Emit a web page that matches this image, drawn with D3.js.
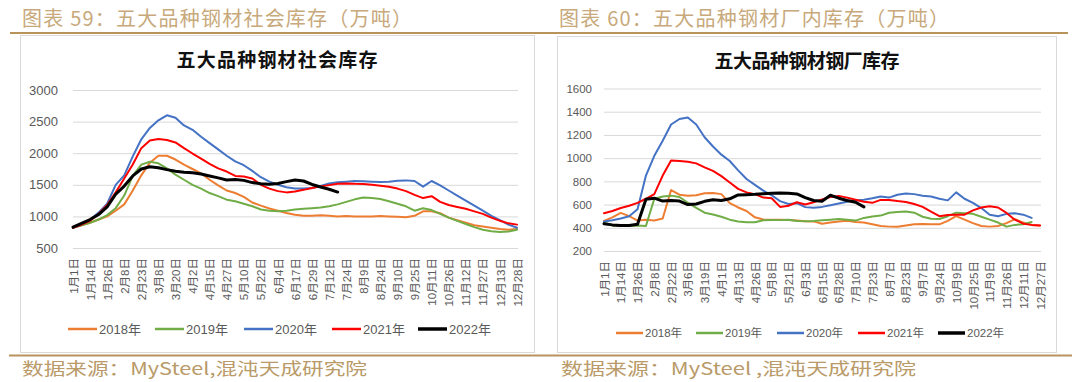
<!DOCTYPE html>
<meta charset="utf-8">
<head>
<style>
body { margin: 0; background: #fff; }
.grid line { stroke: #d9d9d9; stroke-width: 1px; }
.grid path, .yaxis path, .xaxis path { display: none; }
.yaxis text, .xaxis text, .legend text {
  fill: #595959;
  font-family: "Liberation Sans", "Noto Sans CJK SC", sans-serif;
}
.series { fill: none; stroke-linejoin: round; stroke-linecap: round; }
.head { fill: #c8a97b; font-family: "Noto Sans CJK SC", sans-serif; font-size: 20px; }
.src { fill: #b99a68; font-family: "Noto Sans CJK SC", sans-serif; font-size: 17px; }
.ctitle { fill: #111; font-family: "Noto Sans CJK SC", sans-serif; font-size: 19px; font-weight: bold; }
</style>
</head>
<body>
<script src="https://d3js.org/d3.v7.min.js"></script>
<script>

// ---- data ----
var years  = ["2018年", "2019年", "2020年", "2021年", "2022年"];
var colors = ["#ED7D31", "#70AD47", "#4472C4", "#FF0000", "#000000"];

// tick labels (every other week is labelled)
var socLabels = ["1月1日","1月14日","1月26日","2月8日","2月23日","3月8日","3月20日","4月2日","4月15日",
  "4月27日","5月10日","5月22日","6月4日","6月17日","6月29日","7月12日","7月24日","8月9日","8月24日",
  "9月10日","9月25日","10月11日","10月26日","11月12日","11月27日","12月13日","12月28日"];
var millLabels = ["1月1日","1月14日","1月26日","2月8日","2月22日","3月6日","3月19日","4月1日","4月13日",
  "4月26日","5月8日","5月21日","6月3日","6月15日","6月28日","7月10日","7月23日","8月7日","8月23日",
  "9月7日","9月24日","10月9日","10月25日","11月9日","11月26日","12月11日","12月27日"];

// 五大品种钢材社会库存 (万吨), weekly
var soc2018 = [820,860,900,950,1000,1090,1190,1410,1650,1850,1960,1960,1900,1820,1750,1680,1580,1490,1410,1370,
  1310,1220,1170,1125,1090,1055,1025,1010,1010,1020,1010,1000,1005,1000,1000,1000,1005,1000,995,985,
  1010,1080,1080,1050,980,940,900,860,840,820,800,790,800];
var soc2019 = [820,860,900,950,1020,1130,1330,1640,1820,1865,1840,1760,1660,1580,1500,1440,1370,1320,1265,1240,
  1200,1160,1110,1090,1080,1090,1110,1120,1130,1140,1160,1190,1230,1270,1300,1290,1275,1240,1200,1160,
  1090,1130,1100,1040,980,930,880,830,790,765,755,760,790];
var soc2020 = [820,870,950,1060,1200,1500,1650,1950,2220,2400,2520,2600,2560,2440,2370,2260,2160,2060,1960,1870,
  1810,1720,1620,1550,1500,1460,1440,1440,1450,1480,1520,1540,1550,1560,1555,1550,1545,1550,1565,1570,
  1560,1470,1560,1490,1410,1330,1250,1170,1090,1010,940,870,820];
var soc2021 = [820,870,930,1040,1180,1380,1600,1820,2080,2200,2225,2210,2170,2080,1995,1915,1830,1760,1710,1640,
  1630,1600,1500,1440,1400,1380,1395,1420,1450,1475,1495,1518,1522,1515,1512,1500,1485,1470,1440,1400,
  1340,1290,1320,1230,1180,1150,1120,1080,1040,980,930,890,870];
var soc2022 = [830,890,950,1030,1150,1350,1480,1640,1750,1785,1770,1740,1715,1700,1690,1670,1640,1610,1575,1585,
  1570,1535,1515,1510,1520,1550,1575,1560,1505,1465,1430,1385];

// 五大品种钢材钢厂库存 (万吨), weekly
var mill2018 = [460,490,528,500,462,470,462,480,725,685,676,680,698,700,690,613,575,545,490,472,
  470,470,468,463,456,455,435,445,455,460,450,445,430,415,410,408,420,430,432,430,
  430,460,500,470,440,415,410,415,440,475,445,425,420];
var mill2019 = [445,420,415,415,420,415,650,670,677,665,616,572,530,515,495,470,455,447,447,465,
  468,466,470,458,456,458,465,470,476,470,462,485,498,505,530,535,540,530,495,478,
  476,500,530,525,520,495,470,445,410,425,430,450];
var mill2020 = [455,465,480,500,560,850,1020,1150,1290,1337,1350,1290,1180,1100,1030,975,895,820,770,720,
  680,630,605,612,578,573,580,595,610,625,635,642,655,670,660,685,695,690,676,670,
  650,636,705,650,615,570,513,500,520,525,513,485];
var mill2021 = [525,545,570,590,615,650,690,850,980,975,968,955,920,890,845,790,735,705,690,660,
  655,580,590,620,600,620,645,665,675,660,642,625,615,640,640,630,622,605,580,540,
  500,510,513,513,550,575,585,575,528,470,435,425,420];
var mill2022 = [435,425,420,420,430,645,655,630,636,630,600,605,628,642,635,650,683,685,688,693,
  698,700,698,692,660,635,628,680,655,635,620,580];

var svg = d3.select("body").append("svg")
    .attr("width", 1080)
    .attr("height", 382);

// ---- page frame: headings, gold rules, source notes ----
svg.append("text").attr("class", "head")
    .attr("x", 22).attr("y", 26)
    .attr("textLength", 390).attr("lengthAdjust", "spacing")
    .text("图表 59：五大品种钢材社会库存（万吨）");
svg.append("text").attr("class", "head")
    .attr("x", 559).attr("y", 26)
    .attr("textLength", 390).attr("lengthAdjust", "spacing")
    .text("图表 60：五大品种钢材厂内库存（万吨）");

svg.append("line")
    .attr("x1", 10).attr("x2", 1068).attr("y1", 33).attr("y2", 33)
    .attr("stroke", "#b8945c").attr("stroke-width", 2);

svg.append("rect")
    .attr("x", 20.5).attr("y", 35.5).attr("width", 514).attr("height", 317)
    .attr("fill", "none").attr("stroke", "#d9d9d9");
svg.append("rect")
    .attr("x", 557.5).attr("y", 36.5).attr("width", 499).attr("height", 316)
    .attr("fill", "none").attr("stroke", "#d9d9d9");

svg.append("line")
    .attr("x1", 9).attr("x2", 1072).attr("y1", 355.5).attr("y2", 355.5)
    .attr("stroke", "#b8945c").attr("stroke-width", 2);

svg.append("text").attr("class", "src")
    .attr("x", 22).attr("y", 375)
    .attr("textLength", 345).attr("lengthAdjust", "spacingAndGlyphs")
    .text("数据来源：MySteel,混沌天成研究院");
svg.append("text").attr("class", "src")
    .attr("x", 561).attr("y", 375)
    .attr("textLength", 355).attr("lengthAdjust", "spacingAndGlyphs")
    .text("数据来源：MySteel ,混沌天成研究院");

// ---- one line chart ----
function drawChart(c) {
  var x = d3.scaleLinear().domain([0, 52]).range([c.x0, c.x1]);
  var y = d3.scaleLinear().domain(c.domain).range([c.yBot, c.yTop]);
  var yTicks = d3.range(c.domain[0], c.domain[1] + 1, c.step);

  // gridlines
  svg.append("g")
      .attr("class", "grid")
      .attr("transform", "translate(" + c.x0 + ",0)")
      .call(d3.axisLeft(y)
          .tickValues(yTicks)
          .tickSize(-(c.x1 - c.x0 + 1))
          .tickFormat(""));

  // y axis labels
  svg.append("g")
      .attr("class", "yaxis")
      .attr("transform", "translate(" + c.x0 + ",0)")
      .call(d3.axisLeft(y)
          .tickValues(yTicks)
          .tickSize(0)
          .tickPadding(c.yPad)
          .tickFormat(d3.format("d")))
    .selectAll("text")
      .attr("font-size", c.yfs);

  // x axis labels, rotated
  var xTicks = d3.range(0, 53, 2);
  svg.append("g")
      .attr("class", "xaxis")
      .attr("transform", "translate(0," + c.xlabTop + ")")
      .call(d3.axisBottom(x)
          .tickValues(xTicks)
          .tickSize(0)
          .tickFormat(function(d) { return c.labels[d / 2]; }))
    .selectAll("text")
      .attr("font-size", c.xfs)
      .attr("x", 0).attr("y", 0)
      .attr("dy", "0.36em")
      .attr("transform", "rotate(-90)")
      .style("text-anchor", "end");
  svg.selectAll(".xaxis .tick line").remove();

  // title
  svg.append("text")
      .attr("class", "ctitle")
      .attr("x", c.titleX).attr("y", c.titleY)
      .attr("text-anchor", "middle")
      .attr("textLength", c.titleLen).attr("lengthAdjust", "spacing")
      .text(c.title);

  // series
  var line = d3.line()
      .x(function(d, i) { return x(i); })
      .y(function(d) { return y(d); });

  c.series.forEach(function(s, k) {
    svg.append("path")
        .datum(s)
        .attr("class", "series")
        .attr("stroke", colors[k])
        .attr("stroke-width", k == 4 ? 3 : 2)
        .attr("d", line);
  });

  // legend
  var lg = svg.append("g").attr("class", "legend");
  years.forEach(function(yr, k) {
    var lx = c.legendXs[k];
    lg.append("line")
        .attr("x1", lx).attr("x2", lx + c.legendLen)
        .attr("y1", c.legendY).attr("y2", c.legendY)
        .attr("stroke", colors[k])
        .attr("stroke-width", k == 4 ? 3.5 : 2.5);
    lg.append("text")
        .attr("x", lx + c.legendLen + 2)
        .attr("y", c.legendY)
        .attr("dy", "0.36em")
        .attr("font-size", c.lfs)
        .text(yr);
  });
}

drawChart({
  x0: 73, x1: 517, yTop: 90, yBot: 248, domain: [500, 3000], step: 500,
  labels: socLabels, yPad: 15, yfs: 13, xfs: 11.5, xlabTop: 258,
  title: "五大品种钢材社会库存", titleX: 277, titleY: 67, titleLen: 201,
  series: [soc2018, soc2019, soc2020, soc2021, soc2022],
  legendXs: [68, 155, 244, 332, 418], legendLen: 29, legendY: 329, lfs: 13
});

drawChart({
  x0: 604, x1: 1040, yTop: 88.5, yBot: 251, domain: [200, 1600], step: 200,
  labels: millLabels, yPad: 12, yfs: 11.5, xfs: 11.5, xlabTop: 261,
  title: "五大品种钢材钢厂库存", titleX: 807, titleY: 68, titleLen: 185,
  series: [mill2018, mill2019, mill2020, mill2021, mill2022],
  legendXs: [616, 696, 777, 858, 938], legendLen: 27, legendY: 333, lfs: 11.5
});

</script>
</body>
